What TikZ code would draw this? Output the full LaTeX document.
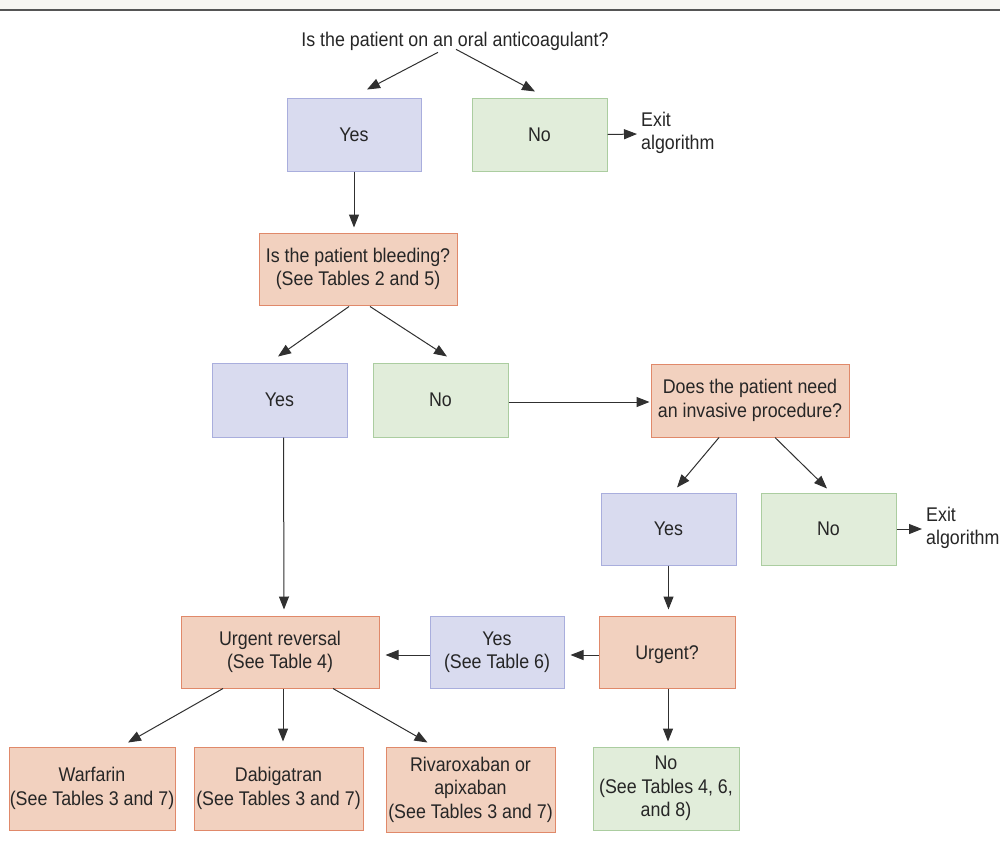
\documentclass[tikz,border=0pt]{standalone}
\usepackage{fontspec}
\setmainfont{Liberation Sans}[FakeStretch=0.9]
\usetikzlibrary{arrows.meta,calc}
\definecolor{txt}{HTML}{262626}
\definecolor{peachF}{HTML}{F2D1BF}
\definecolor{peachD}{HTML}{E0896A}
\definecolor{lavF}{HTML}{D9DBEF}
\definecolor{lavD}{HTML}{A9AEDD}
\definecolor{grnF}{HTML}{E1EDDA}
\definecolor{grnD}{HTML}{ABCDA0}
\definecolor{bandF}{HTML}{F7F6F2}
\definecolor{bandD}{HTML}{555555}
\definecolor{arrC}{HTML}{303030}
\begin{document}
\begin{tikzpicture}[x=1pt,y=-1pt,
  font=\fontsize{19.8}{23.5}\selectfont, text=txt,
  box/.style={draw, line width=1pt, inner sep=0pt, align=center, anchor=center},
  peach/.style={box, fill=peachF, draw=peachD},
  lav/.style={box, fill=lavF, draw=lavD},
  grn/.style={box, fill=grnF, draw=grnD},
  arr/.style={draw=arrC, line width=1pt, -{Triangle[length=13pt,width=10pt]}},
  exitlbl/.style={anchor=west, align=left, inner sep=0pt}]
\useasboundingbox (0,0) rectangle (1000,849);
\fill[white] (0,0) rectangle (1000,849);
\fill[bandF] (0,0) rectangle (1000,10);
\draw[bandD, line width=2pt] (0,10) -- (1000,10);

% nodes
\node[anchor=base, inner sep=0pt] (q) at (455,46) {Is the patient on an oral anticoagulant?};
\node[lav, minimum width=134pt, minimum height=73pt] (yes1) at (354,134.5) {Yes};
\node[grn, minimum width=135pt, minimum height=73pt] (no1) at (539.5,134.5) {No};
\node[exitlbl] (exit1) at (641,133) {Exit\\algorithm};
\node[peach, minimum width=198pt, minimum height=72pt] (bleed) at (358,269) {Is the patient bleeding?\\(See Tables 2 and 5)};
\node[lav, minimum width=135pt, minimum height=74pt] (yes2) at (279.5,400) {Yes};
\node[grn, minimum width=135pt, minimum height=74pt] (no2) at (440.5,400) {No};
\node[peach, minimum width=198pt, minimum height=73pt] (inv) at (750,400.5) {Does the patient need\\an invasive procedure?};
\node[lav, minimum width=135pt, minimum height=72pt] (yes3) at (668.5,529) {Yes};
\node[grn, minimum width=135pt, minimum height=72pt] (no3) at (828.5,529) {No};
\node[exitlbl] (exit2) at (926,528) {Exit\\algorithm};
\node[peach, minimum width=136pt, minimum height=72pt] (urg) at (667,652) {\raisebox{-3pt}[\height][\depth]{Urgent?}};
\node[lav, minimum width=134pt, minimum height=72pt] (yes6) at (497,652) {Yes\\(See Table 6)};
\node[peach, minimum width=198pt, minimum height=72pt] (rev) at (280,652) {Urgent reversal\\(See Table 4)};
\node[peach, minimum width=166pt, minimum height=83pt] (warf) at (92,788.5) {Warfarin\\(See Tables 3 and 7)};
\node[peach, minimum width=169pt, minimum height=83pt] (dabi) at (278.5,788.5) {Dabigatran\\(See Tables 3 and 7)};
\node[peach, minimum width=169pt, minimum height=85pt] (riva) at (470.5,789.5) {Rivaroxaban or\\apixaban\\(See Tables 3 and 7)};
\node[grn, minimum width=146pt, minimum height=83pt] (no8) at (666,788.5) {No\\(See Tables 4, 6,\\and 8)};

% connectors
\draw[arr] ($(q.south)+(-17,2)$) -- ($(yes1.north)+(13,-8)$);
\draw[arr] ($(q.south)+(1,-1)$) -- ($(no1.north)+(-4.5,-6)$);
\draw[arr] (no1.east) -- ($(exit1.west)+(-4,1)$);
\draw[arr] (yes1.south) -- ($(yes1.south |- bleed.north)+(0,-5)$);
\draw[arr] ($(bleed.south)+(-9,1)$) -- ($(yes2.north)+(-1.5,-6)$);
\draw[arr] ($(bleed.south)+(12,1)$) -- ($(no2.north)+(6.5,-6)$);
\draw[arr] ($(no2.east)+(0,2)$) -- ($(inv.west)+(-1,1.5)$);
\draw[arr] ($(inv.south)+(-31,0)$) -- ($(yes3.north)+(8.5,-5)$);
\draw[arr] ($(inv.south)+(25,0)$) -- ($(no3.north)+(-1.5,-4)$);
\draw[arr] (no3.east) -- ($(exit2.west)+(-4,1)$);
\draw[arr] (yes3.south) -- ($(yes3.south |- urg.north)+(0,-6)$);
\draw[arr] ($(urg.west)+(0,3)$) -- ($(yes6.east)+(6,3)$);
\draw[arr] ($(yes6.west)+(0,3)$) -- ($(rev.east)+(6,3)$);
\draw[arr] ($(yes2.south)+(4,0)$) -- ($(rev.north)+(4,-6)$);
\draw[arr] ($(rev.south)+(-57,0)$) -- ($(warf.north)+(36,-4)$);
\draw[arr] ($(rev.south)+(3,0)$) -- ($(rev.south |- dabi.north)+(3,-5)$);
\draw[arr] ($(rev.south)+(53,0)$) -- ($(riva.north)+(-43,-4)$);
\draw[arr] ($(urg.south)+(1,0)$) -- ($(urg.south |- no8.north)+(1,-5)$);
\end{tikzpicture}
\end{document}
